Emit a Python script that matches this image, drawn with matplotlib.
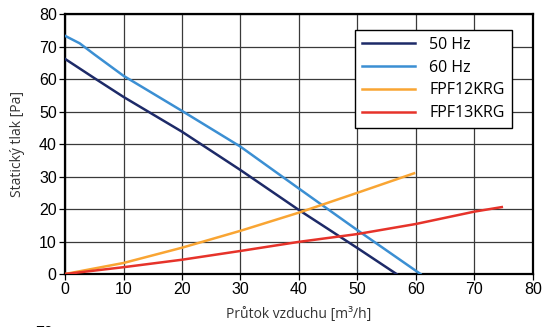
import numpy as np
import matplotlib.pyplot as plt

# hodnoty
x_50 = [0, 5, 10, 20, 30, 40, 50, 56.7]
y_50 = [66.2, 60.3, 54.5, 43.8, 32, 19.7, 8, 0]

x_60 = [0, 2.5, 5, 10, 20, 30, 40, 50, 60.8]
y_60 = [73.3, 71, 67.6, 61, 50.2, 39.2, 26.3, 13.5, 0]

x_12 = [0, 10, 20, 30, 40, 50, 59.7]
y_12 = [0, 3.4, 8.1, 13.3, 18.9, 25, 31]

x_13 = [0, 10, 20, 30, 40, 50, 60, 70, 74.7]
y_13 = [0, 2.1, 4.4, 7.1, 9.9, 12.3, 15.4, 19.2, 20.6]

labels = ["50 Hz", "60 Hz", "FPF12KRG", "FPF13KRG"]
barvy = ["#1d2a68", "#3b8fd3", "#f9a533", "#e6332a"]

fig = plt.figure(figsize=(5.42, 3.27), dpi=100)
ax = fig.add_axes([0.12, 0.162, 0.863, 0.795])

for xs, ys, lab, c in zip([x_50, x_60, x_12, x_13], [y_50, y_60, y_12, y_13], labels, barvy):
    ax.plot(xs, ys, color=c, lw=1.8, label=lab, zorder=3)

ax.set_xlim(0, 80)
ax.set_ylim(0, 80)
ax.set_xticks(np.arange(0, 81, 10))
ax.set_yticks(np.arange(0, 81, 10))
ax.grid(True, color="#3a3a3a", lw=0.9)
ax.tick_params(labelsize=11.5, length=4, width=0.9, pad=2)
for lbl in ax.get_xticklabels() + ax.get_yticklabels():
    lbl.set_family("Liberation Sans")
for s in ax.spines.values():
    s.set_linewidth(1.6)
    s.set_color("black")

ax.set_xlabel("Průtok vzduchu [m³/h]", family="Open Sans", fontsize=10, color="#333333", labelpad=7)
ax.set_ylabel("Statický tlak [Pa]", family="Open Sans", fontsize=10, color="#333333", labelpad=10)

leg = ax.legend(loc="upper right", bbox_to_anchor=(0.972, 0.97), fancybox=False,
                framealpha=1, edgecolor="black", prop={"family": "Open Sans", "size": 11.5},
                handlelength=3.3, handletextpad=0.9, borderpad=0.45, labelspacing=0.42)
leg.get_frame().set_linewidth(1.0)

# useknutý popisek dalšího grafu pod tímto
fig.text(35 / 542, -0.02, "70", family="Liberation Sans", fontsize=11.5, va="center")

fig.savefig("out.png", dpi=100)
